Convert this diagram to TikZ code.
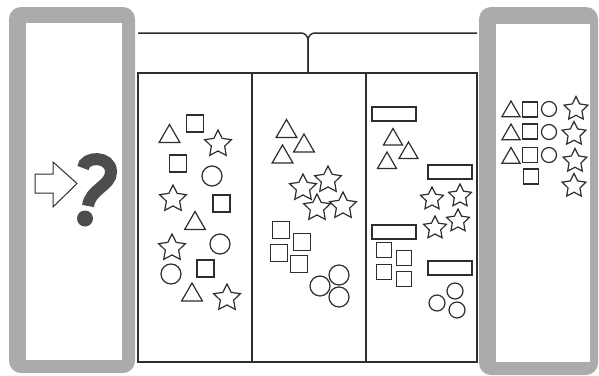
\documentclass[tikz,border=0pt]{standalone}
\usepackage{xcolor}
\definecolor{ink}{HTML}{2E2E2E}
\definecolor{panelgrey}{HTML}{ABABAB}
\definecolor{markgrey}{HTML}{4D4D4D}
\usepackage{tikz}
\usetikzlibrary{shapes.geometric}
\tikzset{
  shp/.style={draw=ink,line width=1.2pt,fill=white,inner sep=0pt},
  tri/.style={shp,regular polygon,regular polygon sides=3,minimum size=#1},
  tri/.default=24pt,
  sq/.style={shp,rectangle,minimum size=#1},
  sq/.default=17pt,
  circ/.style={shp,circle,minimum size=#1},
  circ/.default=20pt,
  starry/.style={shp,star,star points=5,star point ratio=2,minimum size=#1},
  starry/.default=28pt,
  bar/.style={shp,rectangle,minimum width=44pt,minimum height=14pt},
  frame/.style={draw=ink,line width=1.5pt},
  panel/.style={fill=panelgrey,rounded corners=12pt},
}

\begin{document}
\begin{tikzpicture}[x=1pt,y=-1pt]
  \useasboundingbox[fill=white] (0,0) rectangle (599,375);
  % side panels
  \fill[panel] (9,7) rectangle (135,373);
  \fill[white] (26,23) rectangle (122,360);
  \fill[panel] (479,7) rectangle (598,375);
  \fill[white] (496,24) rectangle (590,362);
  % question
  \draw[ink,fill=white,line width=1pt,line join=miter] (35,174) -- (53,174) -- (53,162) -- (77,183.5)
     -- (53,207) -- (53,193) -- (35,193) -- cycle;
  \draw[markgrey,line width=12pt] (83,168) .. controls (84,156) and (111,155) .. (111,172)
     .. controls (111,186) and (90,189) .. (88,206);
  \fill[markgrey] (85,218.5) circle (8);
  % three columns with bracket
  \draw[frame,rounded corners=7pt] (138,33) -- (308,33) -- (308,73);
  \draw[frame,rounded corners=7pt] (477,33) -- (308,33) -- (308,73);
  \draw[frame] (138,73) rectangle (477,362);
  \draw[frame] (252,73) -- (252,362);
  \draw[frame] (366,73) -- (366,362);
  % column 1: mixed
  \foreach \x/\y [count=\i] in {169.5/136.5,195/223.5,192/295}
    \node[tri,name=a-tri\i] at (\x,\y) {};
  \foreach \x/\y [count=\i] in {195/123.5,178/163.5,221.5/203.5,205.5/268.5}
    \node[sq,name=a-sq\i] at (\x,\y) {};
  \foreach \x/\y [count=\i] in {212/176,220/244,171/274}
    \node[circ,name=a-circ\i] at (\x,\y) {};
  \foreach \x/\y [count=\i] in {218/144,173/199,172/248,227/298}
    \node[starry,name=a-star\i] at (\x,\y) {};
  % column 2: grouped
  \foreach \x/\y [count=\i] in {286.5/131.5,304/146,282.5/157}
    \node[tri,name=b-tri\i] at (\x,\y) {};
  \foreach \x/\y [count=\i] in {303/188,328/180,317/208,343/206}
    \node[starry,name=b-star\i] at (\x,\y) {};
  \foreach \x/\y [count=\i] in {281/230,302/242,279/253,299/264}
    \node[sq,name=b-sq\i] at (\x,\y) {};
  \foreach \x/\y [count=\i] in {320/286,339/275,339/297}
    \node[circ,name=b-circ\i] at (\x,\y) {};
  % column 3: grouped with labels
  \foreach \x/\y [count=\i] in {394/114,450/172,394/232,450/268}
    \node[bar,name=c-bar\i] at (\x,\y) {};
  \foreach \x/\y [count=\i] in {393/139.5,408.5/153,387/163}
    \node[tri=22pt,name=c-tri\i] at (\x,\y) {};
  \foreach \x/\y [count=\i] in {432/199,460/196,435/228,458/221}
    \node[starry=24pt,name=c-star\i] at (\x,\y) {};
  \foreach \x/\y [count=\i] in {384/250,404/258,384/272,404/279}
    \node[sq=15pt,name=c-sq\i] at (\x,\y) {};
  \foreach \x/\y [count=\i] in {437/303,455/291,457/310}
    \node[circ=16pt,name=c-circ\i] at (\x,\y) {};
  % right panel: counted
  \foreach \y [count=\i] in {111.5,134.5,158}
    \node[tri=21pt,name=d-tri\i] at (511,\y) {};
  \foreach \x/\y [count=\i] in {530/109.5,530/131.5,530/155,531/176.5}
    \node[sq=15pt,name=d-sq\i] at (\x,\y) {};
  \foreach \y [count=\i] in {109,132,155}
    \node[circ=15pt,name=d-circ\i] at (549,\y) {};
  \foreach \x/\y [count=\i] in {576/109,574/134,575/161,574/186}
    \node[starry=25pt,name=d-star\i] at (\x,\y) {};
\end{tikzpicture}
\end{document}
